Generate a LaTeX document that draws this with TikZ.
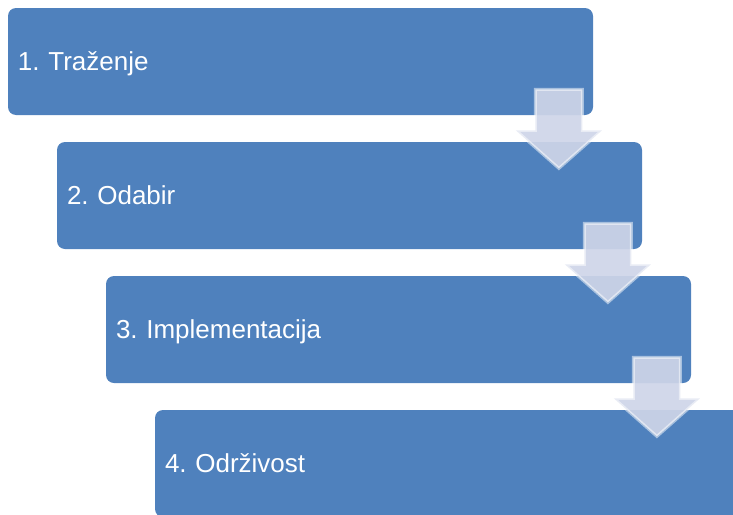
\documentclass[tikz,border=0pt]{standalone}
\usepackage{fontspec}
\setmainfont{Liberation Sans}
\frenchspacing
\usetikzlibrary{calc}
\definecolor{stepblue}{RGB}{79, 129, 189}
\definecolor{flowgray}{RGB}{206, 213, 232}

\begin{document}
\begin{tikzpicture}[
        x=0.5pt, y=-0.5pt,
        phase/.style={draw=none, rounded corners=4pt, fill=stepblue, text=white,
            minimum width=292.5pt, minimum height=53.5pt, text width=282.5pt,
            text height=11pt, text depth=2pt,
            inner sep=5pt, align=left, font=\fontsize{13}{15}\selectfont},
        flow/.style={fill=flowgray, fill opacity=0.92, draw=white, draw opacity=0.5,
            line width=1.5pt, line join=miter}
    ]
        \clip (0,0) rectangle (733,514);
        \useasboundingbox (0,0) rectangle (733,514);

        % Phases
        \node[phase] (p1) at (300.5, 61.5) {1. Traženje};
        \node[phase] (p2) at (349.5, 195.5) {2. Odabir};
        \node[phase] (p3) at (398.5, 329.5) {3. Implementacija};
        \node[phase] (p4) at (447.5, 463.5) {4. Održivost};

        % Arrows
        \foreach \p in {p1, p2, p3} {
            \draw[flow, shift={(\p.south east)}]
                (-58, -26) -- (-11, -26) -- (-11, 15) -- (8.5, 15)
                -- (-34.5, 53) -- (-77.5, 15) -- (-58, 15) -- cycle;
        }
    \end{tikzpicture}
\end{document}
